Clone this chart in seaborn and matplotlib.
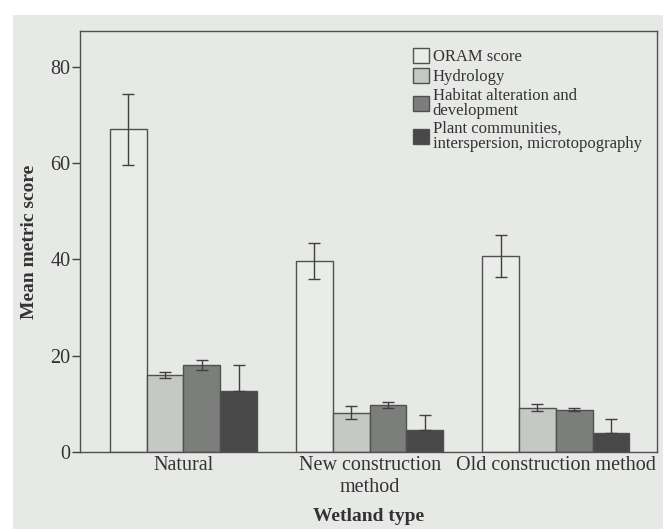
import matplotlib
matplotlib.use("Agg")
import matplotlib.pyplot as plt
import seaborn as sns
import pandas as pd
import numpy as np
from matplotlib.patches import Rectangle

wetland_types = ["Natural", "New construction\nmethod", "Old construction method"]
metrics = ["ORAM score", "Hydrology", "Habitat alteration and\ndevelopment",
           "Plant communities,\ninterspersion, microtopography"]

oram_mean = [67.0, 39.7, 40.7]
oram_err = [7.4, 3.7, 4.4]
hydrology_mean = [16.0, 8.2, 9.2]
hydrology_err = [0.6, 1.35, 0.75]
habitat_mean = [18.0, 9.7, 8.8]
habitat_err = [1.0, 0.6, 0.3]
plant_mean = [12.7, 4.6, 4.0]
plant_err = [5.3, 3.1, 2.8]

means = [oram_mean, hydrology_mean, habitat_mean, plant_mean]
errs = [oram_err, hydrology_err, habitat_err, plant_err]
colors = ["#eaecea", "#c6c8c5", "#7c7e7c", "#474847"]
bg = "#e7e9e6"

rows = []
for m, mv, ev in zip(metrics, means, errs):
    for w, v, e in zip(wetland_types, mv, ev):
        rows.append({"Wetland type": w, "Metric": m, "value": v, "err": e})
df = pd.DataFrame(rows)

sns.set_style("ticks")
plt.rcParams["font.family"] = ["Liberation Serif", "DejaVu Serif"]

fig = plt.figure(figsize=(6.63, 5.29), dpi=100, facecolor=bg)
ax = fig.add_axes([80/663, 1 - 452/529, 577/663, 421/529])
ax.set_facecolor(bg)

sns.barplot(data=df, x="Wetland type", y="value", hue="Metric",
            hue_order=metrics, order=wetland_types, palette=colors,
            errorbar=None, width=0.79, edgecolor="#505050", linewidth=1.0,
            saturation=1, ax=ax)

# error bars located at the centres of the drawn bars
bars = [p for p in ax.patches if p.get_height() > 0]
for i, m in enumerate(metrics):
    sub = df[df["Metric"] == m]
    for j, w in enumerate(wetland_types):
        p = bars[i * len(wetland_types) + j]
        xc = p.get_x() + p.get_width() / 2
        v = sub[sub["Wetland type"] == w]["value"].values[0]
        e = sub[sub["Wetland type"] == w]["err"].values[0]
        # the darkest bars hide the lower half of their error bars
        yerr = [[0.0], [e]] if i == len(metrics) - 1 else e
        ax.errorbar(xc, v, yerr=yerr, fmt="none", ecolor="#404040",
                    elinewidth=1.0, capsize=4.5, capthick=1.0, zorder=5)

ax.set_ylim(0, 87.4)
ax.set_xlim(-0.556, 2.544)
ax.set_yticks([0, 20, 40, 60, 80])
ax.tick_params(axis="y", labelsize=14.5, length=6, width=1.0, color="#404040",
               labelcolor="#333333", pad=1)
ax.tick_params(axis="x", labelsize=14.5, length=0, labelcolor="#333333", pad=3)
for s in ax.spines.values():
    s.set_color("#505050")
    s.set_linewidth(1.0)

ax.set_ylabel("Mean metric score", fontsize=14, fontweight="bold",
              color="#333333", labelpad=9)
ax.set_xlabel("Wetland type", fontsize=14, fontweight="bold",
              color="#333333", labelpad=8)

leg = ax.legend(loc="upper left", bbox_to_anchor=(0.565, 0.975),
                frameon=False, fontsize=12, handlelength=1.0,
                handleheight=1.0, handletextpad=0.2, labelspacing=0.15,
                borderaxespad=0)
for t in leg.get_texts():
    t.set_color("#333333")
    t.set_linespacing(0.92)

# white margin of the scanned page
fig.add_artist(Rectangle((0, 1 - 15/529), 1, 15/529, transform=fig.transFigure,
                         facecolor="white", edgecolor="none", zorder=-1))
fig.add_artist(Rectangle((0, 0), 13/663, 1, transform=fig.transFigure,
                         facecolor="white", edgecolor="none", zorder=-1))

fig.savefig("out.png", dpi=100, facecolor=bg)
